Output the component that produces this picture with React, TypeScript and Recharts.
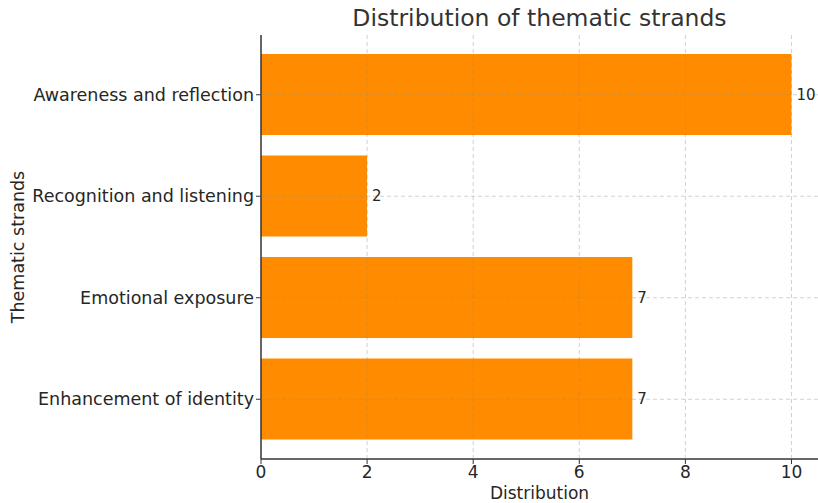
import { BarChart, Bar, XAxis, YAxis, ReferenceLine, LabelList } from 'recharts';

// thematic strands, listed top to bottom
const strands = [
  'Awareness and reflection',
  'Recognition and listening',
  'Emotional exposure',
  'Enhancement of identity',
];
const counts = [10, 2, 7, 7];
const xTicks = [0, 2, 4, 6, 8, 10];

const data = strands.map((name, i) => ({ name, count: counts[i] }));

const FONT = '"DejaVu Sans", sans-serif';
const TEXT = '#262626';
const GRID = { stroke: '#8c8c8c', strokeOpacity: 0.4, strokeDasharray: '4 3', strokeWidth: 1 };

export default function App() {
  return (
    <div style={{ position: 'fixed', left: 0, top: 0, width: 818, height: 503, fontFamily: FONT, background: '#fff' }}>
      <div
        style={{
          position: 'absolute', left: 261, width: 557, top: 4, textAlign: 'center',
          fontSize: 23.5, lineHeight: '28px', color: '#333',
        }}
      >
        Distribution of thematic strands
      </div>
      <BarChart
        width={818}
        height={503}
        data={data}
        layout="vertical"
        margin={{ top: 35, right: 0, bottom: 0, left: 0 }}
      >
        <XAxis
          type="number"
          domain={[0, 10.5]}
          ticks={xTicks}
          height={44}
          tickSize={5}
          tickLine={{ stroke: '#333' }}
          axisLine={{ stroke: '#333', strokeWidth: 1.5 }}
          tick={{ fill: TEXT, fontSize: 17, fontFamily: FONT }}
          label={{ value: 'Distribution', position: 'center', dy: 12, fill: TEXT, fontSize: 17, fontFamily: FONT }}
        />
        <YAxis
          type="category"
          dataKey="name"
          width={261}
          padding={{ top: 9, bottom: 9 }}
          tickSize={5}
          tickLine={{ stroke: '#333' }}
          axisLine={{ stroke: '#333', strokeWidth: 1.5 }}
          tick={{ fill: TEXT, fontSize: 17.5, fontFamily: FONT }}
          label={{ value: 'Thematic strands', angle: -90, position: 'center', dx: -113, fill: TEXT, fontSize: 17.5, fontFamily: FONT }}
        />
        <Bar dataKey="count" fill="#ff8c00" barSize={81} isAnimationActive={false}>
          <LabelList dataKey="count" position="right" offset={5} fill={TEXT} fontSize={15} fontFamily={FONT} />
        </Bar>
        {/* dashed grid drawn over the bars */}
        {xTicks.slice(1).map((t) => (
          <ReferenceLine key={t} x={t} zIndex={1000} {...GRID} />
        ))}
        {strands.map((s) => (
          <ReferenceLine key={s} y={s} zIndex={1000} {...GRID} />
        ))}
      </BarChart>
    </div>
  );
}
